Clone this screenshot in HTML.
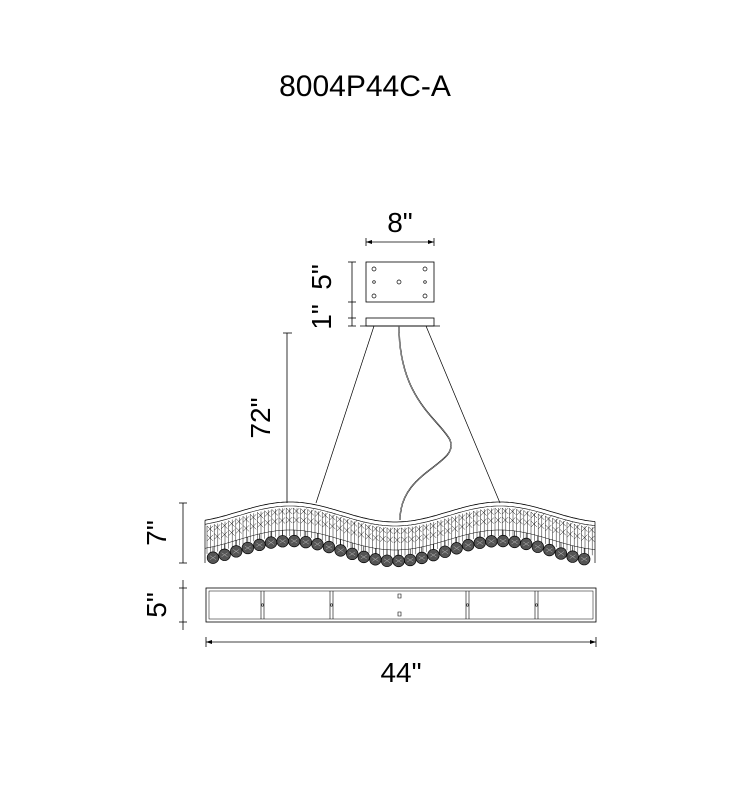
<!DOCTYPE html>
<html><head><meta charset="utf-8"><style>
html,body{margin:0;padding:0;background:#fff;width:730px;height:800px;overflow:hidden}
svg{display:block}
text{font-family:"Liberation Sans",Arial,sans-serif;fill:#000}
</style></head><body>
<svg id="s" width="730" height="800" viewBox="0 0 730 800" xmlns="http://www.w3.org/2000/svg">
<text x="365" y="96" font-size="30" text-anchor="middle">8004P44C-A</text>
<text x="400" y="232" font-size="28" text-anchor="middle">8"</text>
<line x1="366" y1="242" x2="434" y2="242" stroke="#000" stroke-width="0.8"/>
<line x1="366" y1="238" x2="366" y2="246" stroke="#000" stroke-width="0.8"/>
<line x1="434" y1="238" x2="434" y2="246" stroke="#000" stroke-width="0.8"/>
<path d="M366 242 l6 -2 v4z M434 242 l-6 -2 v4z" fill="#000"/>
<rect x="366" y="262" width="68" height="40" fill="none" stroke="#000" stroke-width="0.8"/>
<g fill="none" stroke="#000" stroke-width="0.7">
<circle cx="374" cy="269" r="2"/><circle cx="425" cy="269" r="2"/>
<circle cx="374" cy="282" r="1.3"/><circle cx="425" cy="282" r="1.3"/><circle cx="399" cy="282" r="2"/>
<circle cx="374" cy="296" r="2"/><circle cx="425" cy="296" r="2"/>
</g>
<rect x="366" y="318" width="68" height="8" fill="none" stroke="#000" stroke-width="0.8"/>
<line x1="360" y1="326" x2="440" y2="326" stroke="#000" stroke-width="0.8"/>
<line x1="352" y1="262" x2="352" y2="326" stroke="#000" stroke-width="0.8"/>
<line x1="348" y1="262" x2="356" y2="262" stroke="#000" stroke-width="0.8"/>
<line x1="348" y1="302" x2="356" y2="302" stroke="#000" stroke-width="0.8"/>
<line x1="348" y1="318" x2="356" y2="318" stroke="#000" stroke-width="0.8"/>
<line x1="348" y1="326" x2="356" y2="326" stroke="#000" stroke-width="0.8"/>
<text transform="translate(331,277) rotate(-90)" font-size="28" text-anchor="middle">5"</text>
<text transform="translate(331,317) rotate(-90)" font-size="28" text-anchor="middle">1"</text>
<line x1="374" y1="326" x2="316" y2="503" stroke="#000" stroke-width="0.7"/>
<line x1="426" y1="326" x2="500" y2="503" stroke="#000" stroke-width="0.7"/>
<path d="M399 326 C399 400 440 420 450 440 C460 465 400 470 400 520" fill="none" stroke="#000" stroke-width="1.4"/>
<path d="M399 326 C399 400 440 420 450 440 C460 465 400 470 400 520" fill="none" stroke="#fff" stroke-width="0.5"/>
<line x1="287" y1="333" x2="287" y2="503" stroke="#000" stroke-width="0.8"/>
<line x1="283" y1="333" x2="292" y2="333" stroke="#000" stroke-width="0.8"/>
<text transform="translate(270,418) rotate(-90)" font-size="28" text-anchor="middle">72"</text>
<line x1="183" y1="503" x2="183" y2="563" stroke="#000" stroke-width="0.8"/>
<line x1="179" y1="503" x2="187" y2="503" stroke="#000" stroke-width="0.8"/>
<line x1="179" y1="563" x2="187" y2="563" stroke="#000" stroke-width="0.8"/>
<text transform="translate(166,533) rotate(-90)" font-size="28" text-anchor="middle">7"</text>
<line x1="183" y1="580" x2="183" y2="630" stroke="#000" stroke-width="0.8"/>
<line x1="179" y1="588" x2="187" y2="588" stroke="#000" stroke-width="0.8"/>
<line x1="179" y1="622" x2="187" y2="622" stroke="#000" stroke-width="0.8"/>
<text transform="translate(166,605) rotate(-90)" font-size="28" text-anchor="middle">5"</text>
<rect x="206" y="588" width="390" height="34" fill="none" stroke="#000" stroke-width="0.8"/>
<rect x="209" y="591" width="384" height="28" fill="none" stroke="#000" stroke-width="0.5"/>
<g stroke="#000" stroke-width="0.6" fill="none">
<line x1="261" y1="591" x2="261" y2="619"/><line x1="264" y1="591" x2="264" y2="619"/>
<line x1="330" y1="591" x2="330" y2="619"/><line x1="333" y1="591" x2="333" y2="619"/>
<line x1="466" y1="591" x2="466" y2="619"/><line x1="469" y1="591" x2="469" y2="619"/>
<line x1="535" y1="591" x2="535" y2="619"/><line x1="538" y1="591" x2="538" y2="619"/>
<circle cx="262.5" cy="605" r="1.2"/><circle cx="331.5" cy="605" r="1.2"/><circle cx="467.5" cy="605" r="1.2"/><circle cx="536.5" cy="605" r="1.2"/>
<path d="M398 598 v-4 h3 v4z M398 612 v4 h3 v-4z"/>
</g>
<line x1="206" y1="642" x2="596" y2="642" stroke="#000" stroke-width="0.8"/>
<line x1="206" y1="637" x2="206" y2="647" stroke="#000" stroke-width="0.8"/>
<line x1="596" y1="637" x2="596" y2="647" stroke="#000" stroke-width="0.8"/>
<path d="M206 642 l6 -2 v4z M596 642 l-6 -2 v4z" fill="#000"/>
<text x="401" y="682" font-size="28" text-anchor="middle">44"</text>
<g id="wave"></g>
</svg>
<script>
(function(){
var g=document.getElementById('wave'),h='';
function y(x){return 512-10*Math.cos(2*Math.PI*(x-290)/210);}
function line(off,w){var p='';for(var x=205;x<=595;x+=2){p+=(x==205?'M':'L')+x+' '+(y(x)+off).toFixed(1)+' ';}
 return '<path d="'+p+'" fill="none" stroke="#000" stroke-width="'+w+'"/>';}
h+=line(0,0.8)+line(4,0.6)+line(28,0.5);
h+='<line x1="205" y1="'+y(205)+'" x2="205" y2="563" stroke="#000" stroke-width="0.7"/>';
h+='<line x1="595" y1="'+y(595)+'" x2="595" y2="563" stroke="#000" stroke-width="0.7"/>';
for(var x=207;x<595;x+=3.6){var yy=y(x);
 h+='<line x1="'+x+'" y1="'+(yy+6)+'" x2="'+x+'" y2="'+(yy+34)+'" stroke="#000" stroke-width="0.45"/>';}
for(var x=207;x<590;x+=7.2){var yy=y(x);
 h+='<path d="M'+x+' '+(yy+6)+' l6 6 M'+(x+6)+' '+(yy+6)+' l-6 6 M'+x+' '+(yy+15)+' l6 6 M'+(x+6)+' '+(yy+15)+' l-6 6" stroke="#000" stroke-width="0.45" fill="none"/>';}
for(var i=0;i<33;i++){var x=213+i*11.6;var yy=y(x)+39;
 h+='<line x1="'+x+'" y1="'+(yy-11)+'" x2="'+x+'" y2="'+(yy-5)+'" stroke="#000" stroke-width="0.6"/>';
 h+='<circle cx="'+x+'" cy="'+yy+'" r="5.8" fill="#555" stroke="#000" stroke-width="0.7"/>';
 h+='<path d="M'+(x-3)+' '+(yy-2)+' l6 4 M'+(x+3)+' '+(yy-2)+' l-6 4" stroke="#bbb" stroke-width="0.5"/>';}
g.innerHTML=h;
})();
</script>
</body></html>
